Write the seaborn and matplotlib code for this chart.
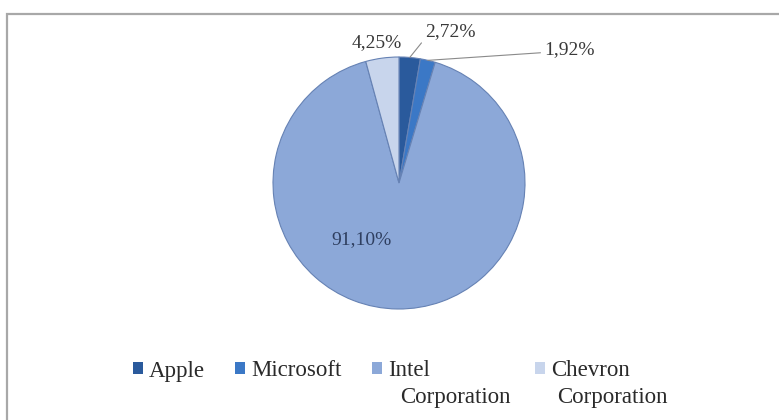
import numpy as np
import matplotlib
matplotlib.use("Agg")
import matplotlib.pyplot as plt
import seaborn as sns
from matplotlib.patches import Rectangle

companies = ["Apple", "Microsoft", "Intel Corporation", "Chevron Corporation"]
shares = [2.72, 1.92, 91.10, 4.25]
share_labels = ["2,72%", "1,92%", "91,10%", "4,25%"]
colors = ["#2a5a9c", "#3b78c6", "#8ca8d8", "#c8d5ec"]

sns.set_theme(style="white")
plt.rcParams['font.family'] = ['Liberation Serif', 'DejaVu Serif']

W, H = 779, 420
fig = plt.figure(figsize=(W/100, H/100), dpi=100)
fig.patch.set_facecolor("white")

# outer frame
fig.patches.append(Rectangle((7/W, -0.05), 1.2, (H-14)/H + 0.05,
                             transform=fig.transFigure, fill=False,
                             edgecolor="#a8a8a8", linewidth=1.6, zorder=0))

cx, cy, r = 399, 183, 126
ax = fig.add_axes([(cx - r)/W, (H - cy - r)/H, 2*r/W, 2*r/H])
wedges, _ = ax.pie(shares, colors=colors, startangle=90, counterclock=False,
                   wedgeprops=dict(edgecolor="#6682b4", linewidth=0.8))
ax.set_xlim(-1, 1)
ax.set_ylim(-1, 1)
ax.set_aspect("auto")
ax.axis("off")

def edge_point(w, rad=1.0):
    a = np.deg2rad((w.theta1 + w.theta2) / 2)
    return rad*np.cos(a), rad*np.sin(a)

def px(x, y):
    return (x - cx) / r, (cy - y) / r

fs = 14
tcol = "#3a3a3a"
ax.annotate(share_labels[0], xy=edge_point(wedges[0]), xytext=px(450, 32),
            ha="center", va="center", fontsize=fs, color=tcol, annotation_clip=False,
            arrowprops=dict(arrowstyle="-", color="#8a8a8a", lw=0.8,
                            shrinkA=0, shrinkB=0, relpos=(0.0, 0.1)))
ax.annotate(share_labels[1], xy=edge_point(wedges[1]), xytext=px(569, 50),
            ha="center", va="center", fontsize=fs, color=tcol, annotation_clip=False,
            arrowprops=dict(arrowstyle="-", color="#8a8a8a", lw=0.8,
                            shrinkA=0, shrinkB=0, relpos=(0.0, 0.35)))
ax.text(*px(361, 240), share_labels[2], ha="center", va="center",
        fontsize=fs, color="#2f3f60")
ax.text(*px(377, 43), share_labels[3], ha="center", va="center",
        fontsize=fs, color=tcol, clip_on=False)

# legend: one entry per column, wrapped like the original
leg_x = [133, 235, 372, 535]        # left edge of each legend square (px)
second_x = [None, None, 400, 557]   # left edge of wrapped second line (px)
row1_y, row2_y = 371, 397
lfs = 16.5
for i, name in enumerate(companies):
    parts = name.split(" ", 1)
    leg = fig.legend([Rectangle((0, 0), 1, 1, facecolor=colors[i], edgecolor="none")],
                     [parts[0]], loc="center left",
                     bbox_to_anchor=(leg_x[i]/W, 1 - row1_y/H), frameon=False,
                     fontsize=lfs, handlelength=0.45, handleheight=0.45,
                     handletextpad=0.25, borderpad=0, borderaxespad=0)
    for t in leg.get_texts():
        t.set_color("#2a2a2a")
    if len(parts) > 1:
        fig.text(second_x[i]/W, 1 - row2_y/H, parts[1], ha="left", va="center",
                 fontsize=lfs, color="#2a2a2a")

fig.savefig("out.png", dpi=100)
